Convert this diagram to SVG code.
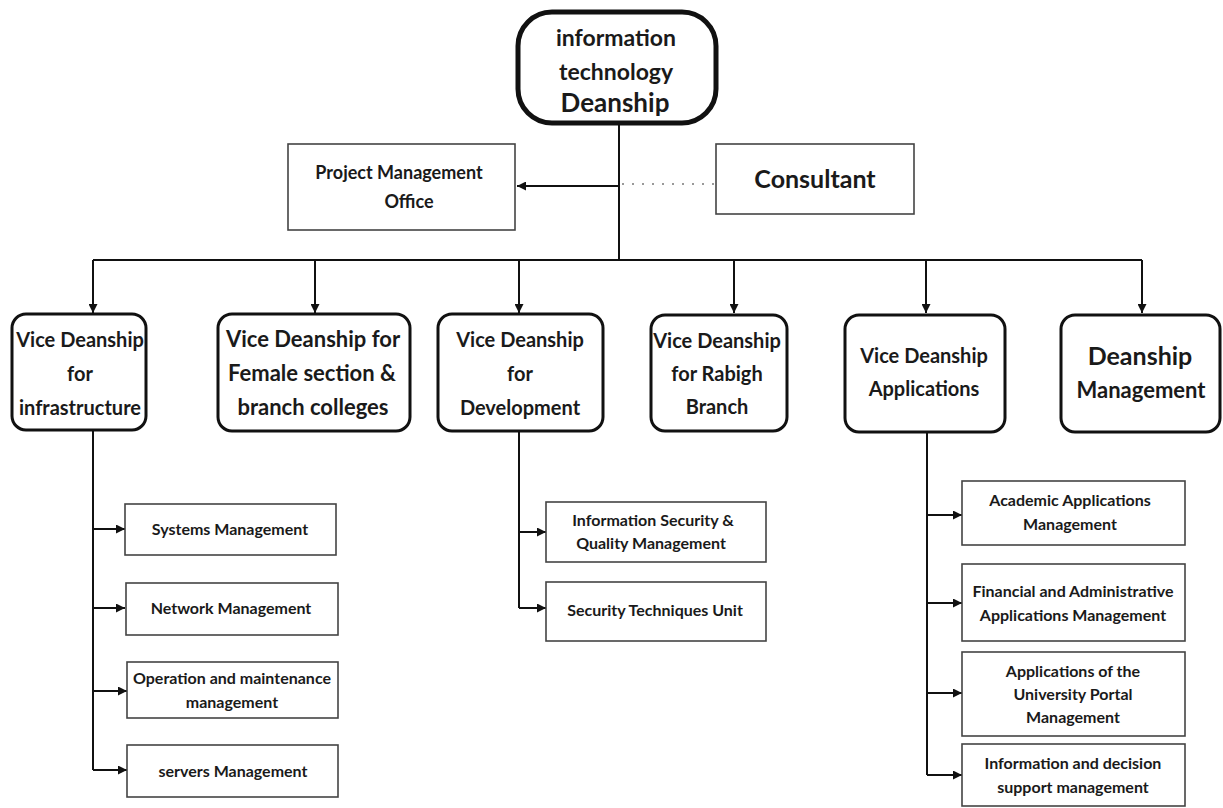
<svg xmlns="http://www.w3.org/2000/svg" width="1223" height="808" viewBox="0 0 1223 808">
<defs>
<marker id="ah" viewBox="0 0 10 10" refX="10" refY="5" markerWidth="9" markerHeight="9" markerUnits="userSpaceOnUse" orient="auto">
<path d="M0,0 L10,5 L0,10 z" fill="#111"/>
</marker>
</defs>
<style>
text{font-family:Lato,"Open Sans","Liberation Sans",sans-serif;fill:#1a1a1a;text-anchor:middle;font-weight:bold}
.vd{fill:#fff;stroke:#111;stroke-width:3}
.sb{fill:#fff;stroke:#444;stroke-width:1.6}
.vt{font-size:20px}
.st{font-size:16px}
.ln{fill:none;stroke:#111;stroke-width:2}
</style>
<rect width="1223" height="808" fill="#fff"/>
<g id="connectors">
<path class="ln" d="M619,123 V260"/>
<path class="ln" d="M93,260 H1142"/>
<path class="ln" d="M619,186 H517" marker-end="url(#ah)"/>
<path d="M622,184 H716" stroke="#999" stroke-width="2" stroke-dasharray="2,8" fill="none"/>
<path class="ln" d="M93,260 V313" marker-end="url(#ah)"/>
<path class="ln" d="M315,260 V313" marker-end="url(#ah)"/>
<path class="ln" d="M519,260 V313" marker-end="url(#ah)"/>
<path class="ln" d="M734,260 V313" marker-end="url(#ah)"/>
<path class="ln" d="M926,260 V313" marker-end="url(#ah)"/>
<path class="ln" d="M1142,260 V313" marker-end="url(#ah)"/>
<path class="ln" d="M93,430 V770"/>
<path class="ln" d="M93,529 H125" marker-end="url(#ah)"/>
<path class="ln" d="M93,608 H125" marker-end="url(#ah)"/>
<path class="ln" d="M93,691 H127" marker-end="url(#ah)"/>
<path class="ln" d="M93,770 H127" marker-end="url(#ah)"/>
<path class="ln" d="M519,431 V608"/>
<path class="ln" d="M519,532 H546" marker-end="url(#ah)"/>
<path class="ln" d="M519,608 H546" marker-end="url(#ah)"/>
<path class="ln" d="M927,432 V775"/>
<path class="ln" d="M927,515 H962" marker-end="url(#ah)"/>
<path class="ln" d="M927,603 H962" marker-end="url(#ah)"/>
<path class="ln" d="M927,693 H962" marker-end="url(#ah)"/>
<path class="ln" d="M927,775 H962" marker-end="url(#ah)"/>
</g>
<g id="top">
<rect x="518" y="12" width="198" height="111" rx="34" fill="#fff" stroke="#111" stroke-width="5"/>
<text x="616" y="46" style="font-size:23px">information</text>
<text x="616" y="80" style="font-size:23px">technology</text>
<text x="615" y="112" style="font-size:26px">Deanship</text>
</g>
<g id="pmo">
<rect class="sb" x="288" y="144" width="227" height="86"/>
<text x="399" y="179" style="font-size:18px">Project Management</text>
<text x="409" y="208" style="font-size:18px">Office</text>
</g>
<g id="consultant">
<rect class="sb" x="716" y="144" width="198" height="70"/>
<text x="815" y="188" style="font-size:25px">Consultant</text>
</g>
<g id="vd-infra">
<rect class="vd" x="12" y="314" width="134" height="116" rx="14"/>
<text class="vt" x="80" y="347">Vice Deanship</text>
<text class="vt" x="80" y="381">for</text>
<text class="vt" x="80" y="415">infrastructure</text>
</g>
<g id="vd-female">
<rect class="vd" x="218" y="314" width="192" height="117" rx="14"/>
<text class="vt" x="313" y="347" style="font-size:22px">Vice Deanship for</text>
<text class="vt" x="312" y="381" style="font-size:22px">Female section &amp;</text>
<text class="vt" x="313" y="415" style="font-size:22px">branch colleges</text>
</g>
<g id="vd-dev">
<rect class="vd" x="438" y="314" width="165" height="117" rx="14"/>
<text class="vt" x="520" y="347">Vice Deanship</text>
<text class="vt" x="520" y="381">for</text>
<text class="vt" x="520" y="415">Development</text>
</g>
<g id="vd-rabigh">
<rect class="vd" x="651" y="315" width="136" height="116" rx="14"/>
<text class="vt" x="717" y="348">Vice Deanship</text>
<text class="vt" x="717" y="381">for  Rabigh</text>
<text class="vt" x="717" y="414">Branch</text>
</g>
<g id="vd-apps">
<rect class="vd" x="845" y="315" width="160" height="117" rx="14"/>
<text class="vt" x="924" y="363">Vice Deanship</text>
<text class="vt" x="924" y="396">Applications</text>
</g>
<g id="deanship-mgmt">
<rect class="vd" x="1061" y="315" width="159" height="117" rx="14"/>
<text x="1140" y="365" style="font-size:25px">Deanship</text>
<text x="1141" y="398" style="font-size:22px">Management</text>
</g>
<g id="sys">
<rect class="sb" x="125" y="504" width="211" height="51"/>
<text class="st" x="230" y="535">Systems Management</text>
</g>
<g id="net">
<rect class="sb" x="126" y="583" width="212" height="52"/>
<text class="st" x="231" y="614">Network Management</text>
</g>
<g id="ops">
<rect class="sb" x="127" y="662" width="211" height="56"/>
<text class="st" x="232" y="684">Operation and maintenance</text>
<text class="st" x="232" y="708">management</text>
</g>
<g id="servers">
<rect class="sb" x="127" y="745" width="211" height="52"/>
<text class="st" x="233" y="777">servers Management</text>
</g>
<g id="infosec">
<rect class="sb" x="546" y="502" width="220" height="60"/>
<text class="st" x="653" y="526">Information Security &amp;</text>
<text class="st" x="651" y="549">Quality Management</text>
</g>
<g id="sectech">
<rect class="sb" x="546" y="582" width="220" height="59"/>
<text class="st" x="655" y="616">Security Techniques Unit</text>
</g>
<g id="academic">
<rect class="sb" x="962" y="481" width="223" height="64"/>
<text class="st" x="1070" y="506">Academic Applications</text>
<text class="st" x="1070" y="530">Management</text>
</g>
<g id="financial">
<rect class="sb" x="962" y="564" width="223" height="77"/>
<text class="st" x="1073" y="597">Financial and Administrative</text>
<text class="st" x="1073" y="621">Applications Management</text>
</g>
<g id="portal">
<rect class="sb" x="962" y="652" width="223" height="84"/>
<text class="st" x="1073" y="677">Applications  of  the</text>
<text class="st" x="1073" y="700">University Portal</text>
<text class="st" x="1073" y="723">Management</text>
</g>
<g id="decision">
<rect class="sb" x="962" y="744" width="223" height="62"/>
<text class="st" x="1073" y="769">Information and decision</text>
<text class="st" x="1073" y="793">support management</text>
</g>
</svg>
